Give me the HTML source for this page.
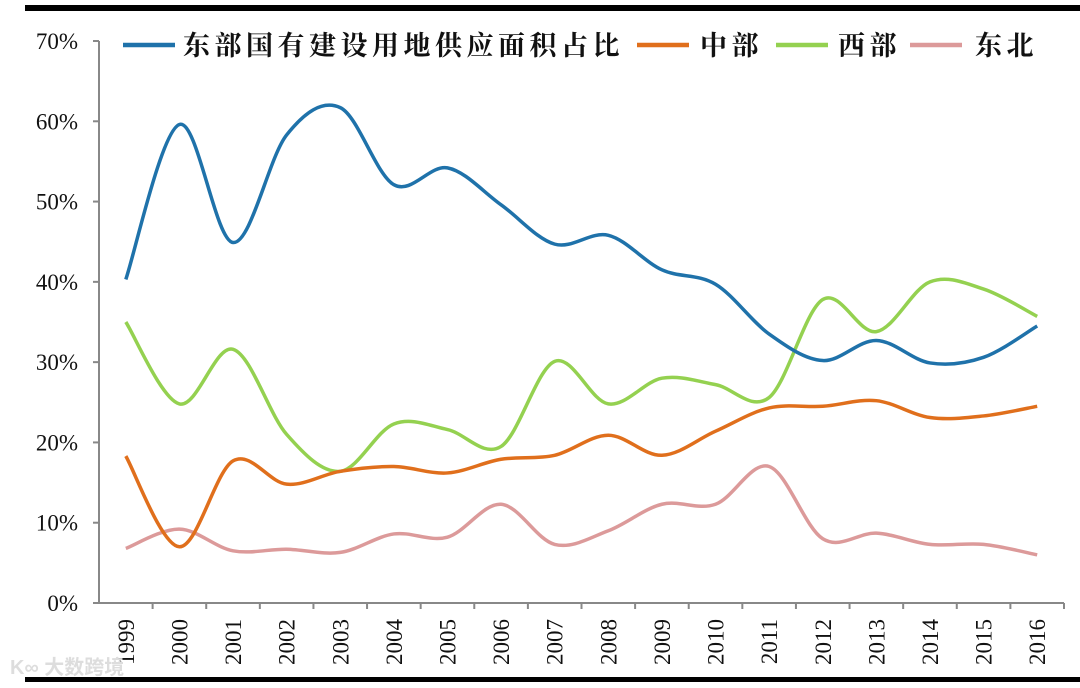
<!DOCTYPE html>
<html><head><meta charset="utf-8"><style>
body{margin:0;background:#fff;}
svg{display:block;}
</style></head><body>
<svg id="c" width="1080" height="688" xmlns="http://www.w3.org/2000/svg">
<rect x="25" y="5" width="1055" height="6" fill="#000"/>
<rect x="25" y="677" width="1055" height="5" fill="#000"/>
<g id="axes"></g><g id="series"></g><g id="legend"></g>
<text x="10" y="674" font-family="Liberation Sans, Noto Sans CJK SC, sans-serif" font-size="20" font-weight="bold" fill="#ddd">K∞ 大数跨境</text>
</svg>
<script>
const years=["1999","2000","2001","2002","2003","2004","2005","2006","2007","2008","2009","2010","2011","2012","2013","2014","2015","2016"];
const yTicks=[0,10,20,30,40,50,60,70];
const east=[40.3,59.6,44.9,58.3,61.7,52.1,54.2,49.6,44.7,45.8,41.5,39.7,33.5,30.2,32.7,29.9,30.6,34.5];
const central=[18.3,7.0,17.7,14.8,16.4,17.0,16.2,17.9,18.4,20.9,18.4,21.4,24.3,24.5,25.2,23.1,23.3,24.5];
const west=[35.0,24.8,31.6,21.0,16.4,22.3,21.6,19.5,30.1,24.8,28.0,27.2,25.6,37.8,33.8,40.0,39.1,35.7];
const northeast=[6.8,9.2,6.5,6.7,6.3,8.6,8.2,12.3,7.3,9.0,12.3,12.3,17.0,8.0,8.7,7.3,7.3,6.0];
const seriesNames=["东部国有建设用地供应面积占比","中部","西部","东北"];
const NS="http://www.w3.org/2000/svg";
const X0=99,X1=1064,Y0=603,Y1=41;
const step=(X1-X0)/years.length;
const xs=i=>X0+step*(i+0.5);
const ys=v=>Y0-(v/70)*(Y0-Y1);
function mk(t,a,p){const e=document.createElementNS(NS,t);for(const k in a)e.setAttribute(k,a[k]);p.appendChild(e);return e;}
const ax=document.getElementById('axes');
let yl=mk('line',{x1:X0,y1:Y1,x2:X0,y2:Y0,stroke:'#888','stroke-width':2},ax);


let xl=mk('line',{x1:X0-6,y1:Y0,x2:X1,y2:Y0,stroke:'#888','stroke-width':2},ax);


yTicks.forEach(v=>{
 const y=ys(v);
 mk('line',{x1:X0-6,y1:y,x2:X0,y2:y,stroke:'#888','stroke-width':2},ax);
 const t=mk('text',{x:78,y:y+8,'text-anchor':'end','font-family':'Liberation Serif, serif','font-size':23,fill:'#111'},ax);
 t.textContent=v+'%';
 
 
});
years.forEach((yr,i)=>{
 const tx=X0+step*(i+1);
 mk('line',{x1:tx,y1:Y0,x2:tx,y2:Y0+6,stroke:'#888','stroke-width':2},ax);
 const x=xs(i);
 const t=mk('text',{x:0,y:0,transform:`translate(${x+8},${Y0+16}) rotate(-90)`,'text-anchor':'end','font-family':'Liberation Serif, serif','font-size':23,fill:'#111'},ax);
 t.textContent=yr;
 
 
});
function path(vals){
 const p=vals.map((v,i)=>[xs(i),ys(v)]);
 let d=`M${p[0][0]},${p[0][1]}`;
 for(let i=0;i<p.length-1;i++){
  const p0=p[i-1]||p[i],p1=p[i],p2=p[i+1],p3=p[i+2]||p2;
  const c1=[p1[0]+(p2[0]-p0[0])/6,p1[1]+(p2[1]-p0[1])/6];
  const c2=[p2[0]-(p3[0]-p1[0])/6,p2[1]-(p3[1]-p1[1])/6];
  d+=` C${c1[0]},${c1[1]} ${c2[0]},${c2[1]} ${p2[0]},${p2[1]}`;
 }
 return d;
}
const sg=document.getElementById('series');
const data=[east,central,west,northeast];
const colors=['#1f72aa','#e06f1c','#94d150','#dc9a9a'];
const snames=['line-east','line-central','line-west','line-northeast'];
[3,2,1,0].forEach(k=>{
 const e=mk('path',{d:path(data[k]),fill:'none',stroke:colors[k],'stroke-width':3.5,'stroke-linejoin':'round'},sg);
 
 
});
const lg=document.getElementById('legend');
const lpos=[[123,183],[637,700],[776,838],[910,975]];
const lnames=['legend-east','legend-central','legend-west','legend-northeast'];
seriesNames.forEach((n,k)=>{
 const g=mk('g',{},lg);
 
 
 mk('line',{x1:lpos[k][0],y1:45,x2:lpos[k][0]+52,y2:45,stroke:colors[k],'stroke-width':4.5},g);
 const t=mk('text',{x:lpos[k][1],y:55,'font-family':'Noto Serif CJK SC, Noto Sans CJK SC, serif','font-weight':'bold','font-size':27,'letter-spacing':4.5,fill:'#111'},g);
 t.textContent=n;
});
</script>
</body></html>
